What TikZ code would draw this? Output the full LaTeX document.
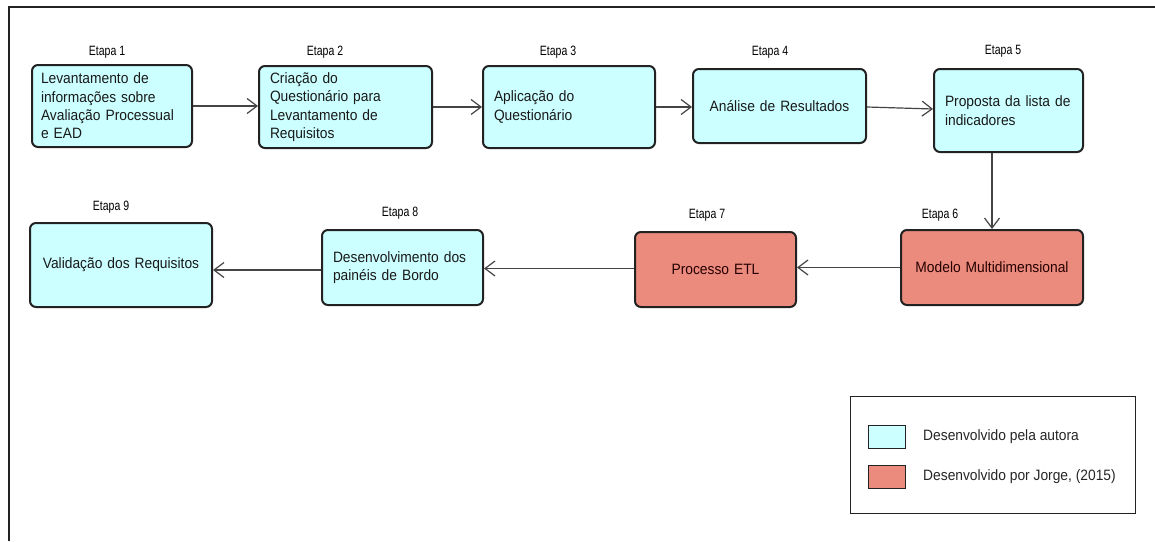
\documentclass[tikz,border=0pt]{standalone}
\usepackage{fontspec}
\setmainfont{Liberation Sans}
\newfontfamily\boxfont[FakeStretch=0.92]{Liberation Sans}
\newfontfamily\etafont[FakeStretch=0.78]{Liberation Sans}
\usetikzlibrary{arrows.meta,calc}
\definecolor{cyanfill}{HTML}{CCFFFF}
\definecolor{redfill}{HTML}{EB8B7D}
\definecolor{edge}{HTML}{222222}
\definecolor{conn}{HTML}{444444}
\begin{document}
\begin{tikzpicture}[x=1pt,y=-1pt,
  stage/.style={draw=edge,line width=2pt,rounded corners=6pt,inner xsep=11pt,inner ysep=0pt,
    font=\boxfont\fontsize{15}{18.3}\selectfont,text=black!90},
  cy/.style={stage,fill=cyanfill},
  rd/.style={stage,fill=redfill,text=black!85!red},
  lbl/.style={font=\etafont\fontsize{13.5}{15}\selectfont,inner sep=0pt},
  conn/.style={draw=conn,line width=1.2pt,-{Straight Barb[length=10pt,width=15pt,line width=1.2pt]}},
  legtext/.style={font=\boxfont\fontsize{15}{16}\selectfont,anchor=west,inner sep=0pt,text=black!85}
]
\useasboundingbox (0,0) rectangle (1155,541);
\fill[white] (0,0) rectangle (1155,541);
\draw[line width=1.5pt,edge] (9,541) -- (9,7) -- (1155,7);

% boxes: center, size
\node[cy,inner xsep=9pt,text width=142pt,align=left,minimum width=160pt,minimum height=82pt] (b1) at (112,106) {Levantamento de\\informações sobre\\Avaliação Processual\\e EAD};
\node[cy,text width=151pt,align=left,minimum width=173pt,minimum height=82pt] (b2) at (345.5,107) {Criação do\\Questionário para\\Levantamento de\\Requisitos};
\node[cy,text width=150pt,align=left,minimum width=172pt,minimum height=82pt] (b3) at (569,107) {Aplicação do\\Questionário};
\node[cy,text width=151pt,align=center,minimum width=173pt,minimum height=74pt] (b4) at (779.5,106) {Análise de Resultados};
\node[cy,text width=127pt,align=left,minimum width=149pt,minimum height=83pt] (b5) at (1008.5,110.5) {Proposta da lista de\\indicadores};
\node[rd,text width=160pt,align=center,minimum width=182pt,minimum height=75pt] (b6) at (992,267.5) {Modelo Multidimensional};
\node[rd,text width=139pt,align=center,minimum width=161pt,minimum height=75pt] (b7) at (715.5,269.5) {Processo ETL};
\node[cy,text width=139pt,align=left,minimum width=161pt,minimum height=75pt] (b8) at (402.5,267.5) {Desenvolvimento dos\\painéis de Bordo};
\node[cy,text width=160pt,align=center,minimum width=182pt,minimum height=84pt] (b9) at (121,265) {Validação dos Requisitos};

% stage labels
\node[lbl] (l1) at (107,52) {Etapa 1};
\node[lbl] (l2) at (325,52) {Etapa 2};
\node[lbl] (l3) at (558,52) {Etapa 3};
\node[lbl] (l4) at (770,52) {Etapa 4};
\node[lbl] (l5) at (1003,51) {Etapa 5};
\node[lbl] (l6) at (940,215) {Etapa 6};
\node[lbl] (l7) at (707,215) {Etapa 7};
\node[lbl] (l8) at (400,213) {Etapa 8};
\node[lbl] (l9) at (111,207) {Etapa 9};

% connectors
\draw[conn] (b1.east) -- (b1.east -| b2.west);
\draw[conn] (b2.east) -- (b2.east -| b3.west);
\draw[conn] (b3.east) -- (b3.east -| b4.west);
\draw[conn] ([yshift=-1pt]b4.east) -- ([yshift=1.5pt]b5.west);
\draw[conn] (b6.north |- b5.south) -- (b6.north);
\draw[conn] (b6.west) -- (b6.west -| b7.east);
\draw[conn] ([yshift=1pt]b7.west) -- ([yshift=1pt]b7.west -| b8.east);
\draw[conn] ([yshift=-2.5pt]b8.west) -- ([yshift=-2.5pt]b8.west -| b9.east);

% legend
\node[draw=edge,line width=1pt,minimum width=285pt,minimum height=117pt,inner sep=0pt] (leg) at (992.5,454.5) {};
\node[draw=edge,line width=1pt,fill=cyanfill,minimum width=37pt,minimum height=23pt,inner sep=0pt] (sw1) at (886.5,436.5) {};
\node[draw=edge,line width=1pt,fill=redfill,minimum width=37pt,minimum height=23pt,inner sep=0pt] (sw2) at (886.5,476.5) {};
\node[legtext] (t1) at (923,436.5) {Desenvolvido pela autora};
\node[legtext] (t2) at (923,476.5) {Desenvolvido por Jorge, (2015)};
\end{tikzpicture}
\end{document}
